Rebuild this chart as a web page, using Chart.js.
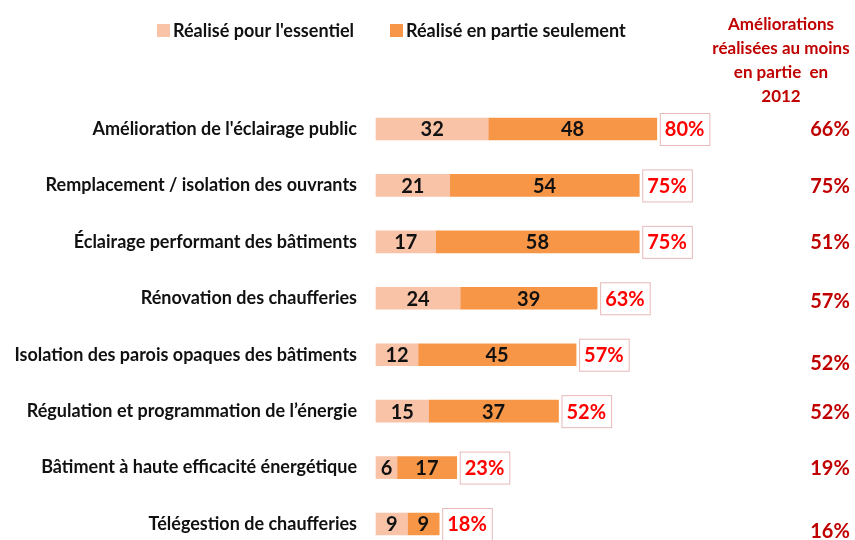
<!DOCTYPE html>
<html>
<head>
<meta charset="utf-8">
<script src="https://cdn.jsdelivr.net/npm/chart.js@4.4.1/dist/chart.umd.min.js"></script>
<style>
  html, body { margin: 0; padding: 0; background: #fff; }
  #wrap { width: 855px; height: 540px; position: relative; }
</style>
</head>
<body>
<div id="wrap"><canvas id="chart"></canvas></div>
<script>
const categories = [
    "Amélioration de l'éclairage public",
    "Remplacement / isolation des ouvrants",
    "Éclairage performant des bâtiments",
    "Rénovation des chaufferies",
    "Isolation des parois opaques des bâtiments",
    "Régulation et programmation de l’énergie",
    "Bâtiment à haute efficacité énergétique",
    "Télégestion de chaufferies"
];
const essentiel = [32, 21, 17, 24, 12, 15, 6, 9];
const enPartie = [48, 54, 58, 39, 45, 37, 17, 9];
const totals = [80, 75, 75, 63, 57, 52, 23, 18];
const year2012 = [66, 75, 51, 57, 52, 52, 19, 16];
const header2012 = ["Améliorations", "réalisées au moins", "en partie  en", "2012"];
const seriesNames = ["Réalisé pour l'essentiel", "Réalisé en partie seulement"];

const FONT = "Lato, 'Open Sans', sans-serif";
const lightColor = "#f9c3a7";
const orangeColor = "#f79646";
const darkRed = "#c00000";

// vertical nudge of the 2012 column, some values sit a bit lower
const nudge2012 = [0, 0, 0, 2, 8, 0, 0, 7];

const overlay = {
    id: "overlay",
    afterDatasetsDraw(chart) {
        const ctx = chart.ctx;
        const m0 = chart.getDatasetMeta(0);
        const m1 = chart.getDatasetMeta(1);
        ctx.save();

        // values inside the bars
        ctx.font = "bold 20px " + FONT;
        ctx.fillStyle = "#111";
        ctx.textAlign = "center";
        ctx.textBaseline = "middle";
        [m0, m1].forEach((meta, d) => {
            meta.data.forEach((bar, i) => {
                const v = chart.data.datasets[d].data[i];
                ctx.fillText(v, (bar.x + bar.base) / 2, bar.y + 1);
            });
        });

        // boxed totals
        ctx.font = "bold 20px " + FONT;
        m1.data.forEach((bar, i) => {
            const txt = totals[i] + "%";
            const w = ctx.measureText(txt).width + 10;
            const x0 = bar.x + 3;
            ctx.fillStyle = "#fff";
            ctx.fillRect(x0, bar.y - 16, w, 32);
            ctx.strokeStyle = "#e6b9b8";
            ctx.lineWidth = 1;
            ctx.strokeRect(x0 + 0.5, bar.y - 15.5, w, 32);
            ctx.fillStyle = "#ff0000";
            ctx.fillText(txt, x0 + w / 2, bar.y + 1);
        });

        // 2012 column
        ctx.fillStyle = darkRed;
        ctx.font = "bold 20px " + FONT;
        m1.data.forEach((bar, i) => {
            ctx.fillText(year2012[i] + "%", 830, bar.y + 1 + nudge2012[i]);
        });
        ctx.font = "bold 17px " + FONT;
        header2012.forEach((line, i) => {
            ctx.fillText(line, 781, 25 + i * 24);
        });

        // legend
        const colors = [lightColor, orangeColor];
        const lx = [157, 390];
        ctx.font = "bold 18px " + FONT;
        ctx.textAlign = "left";
        seriesNames.forEach((name, i) => {
            ctx.fillStyle = colors[i];
            ctx.fillRect(lx[i], 24, 13, 13);
            ctx.fillStyle = "#111";
            ctx.fillText(name, lx[i] + 16, 31);
        });
        ctx.restore();
    }
};

new Chart(document.getElementById("chart"), {
    type: "bar",
    data: {
        labels: categories,
        datasets: [
            { label: seriesNames[0], data: essentiel, backgroundColor: lightColor, barThickness: 22, clip: false },
            { label: seriesNames[1], data: enPartie, backgroundColor: orangeColor, barThickness: 22, clip: false }
        ]
    },
    options: {
        indexAxis: "y",
        responsive: true,
        maintainAspectRatio: false,
        animation: false,
        layout: { autoPadding: false, padding: { top: 129, bottom: 16, right: 128, left: 0 } },
        plugins: {
            legend: { display: false },
            tooltip: { enabled: false }
        },
        scales: {
            x: {
                stacked: true,
                display: false,
                min: 0,
                max: 100
            },
            y: {
                stacked: true,
                offset: false,
                grid: { display: false, drawTicks: false },
                border: { display: false },
                ticks: {
                    color: "#111",
                    padding: 19,
                    font: { family: FONT, size: 18, weight: "bold" }
                },
                afterFit(scale) {
                    // fixed gutter for the long labels, no extra label padding
                    scale.width = 376;
                    scale.paddingTop = 0;
                    scale.paddingBottom = 0;
                }
            }
        }
    },
    plugins: [overlay]
});
</script>
</body>
</html>
